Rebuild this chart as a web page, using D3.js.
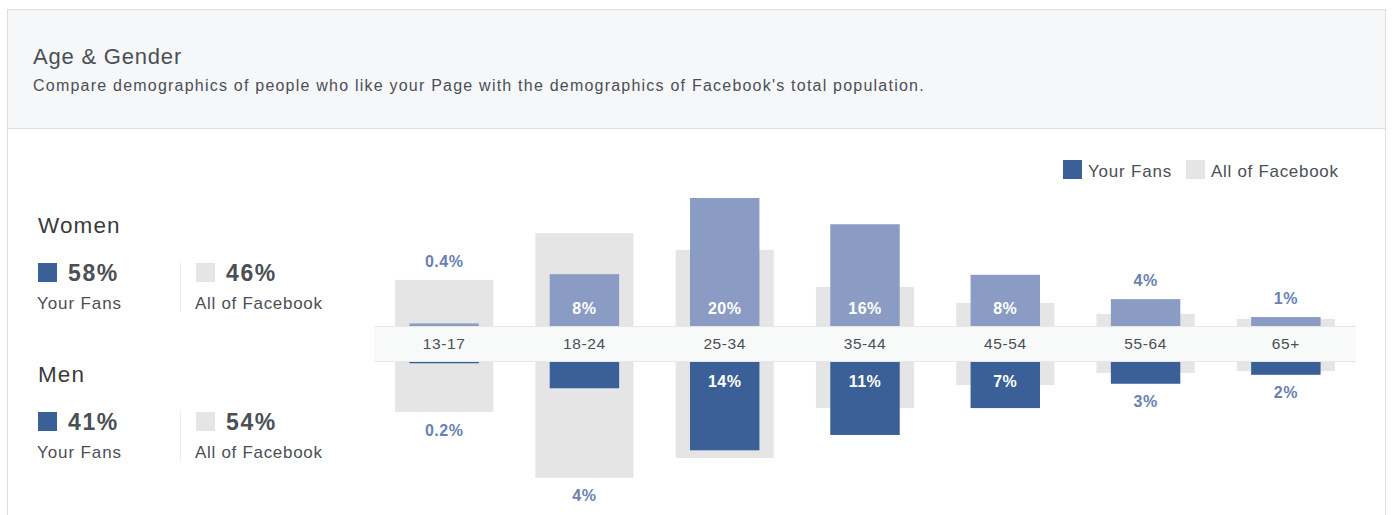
<!DOCTYPE html>
<html>
<head>
<meta charset="utf-8">
<script src="https://cdn.jsdelivr.net/npm/d3@7"></script>
<style>
  html, body { margin: 0; padding: 0; background: #fff; }
  svg { display: block; font-family: "Liberation Sans", Arial, Helvetica, sans-serif; }
</style>
</head>
<body>
<div id="chart"></div>
<script>
// age groups and shares (%)
const ages = ['13-17', '18-24', '25-34', '35-44', '45-54', '55-64', '65+'];
const womenFans = [0.4, 8.1, 20.0, 15.9, 8.0, 4.2, 1.4];
const womenAll = [7.2, 14.5, 11.9, 6.1, 3.6, 1.9, 1.1];
const menFans = [0.2, 4.1, 13.8, 11.4, 7.2, 3.4, 2.0];
const menAll = [7.8, 18.1, 15.0, 7.2, 3.6, 1.7, 1.4];

// gender totals: [your fans, all of facebook]
const genders = ['Women', 'Men'];
const genderFans = [58, 41];
const genderAll = [46, 54];

const W = 1393, H = 515;
const BLUE_LIGHT = '#8a9cc3', BLUE_DARK = '#3b5f97', GREY = '#e5e5e5';
const TEXT = '#4b4f56', LABEL = '#6a7fb5';

const svg = d3.select('#chart').append('svg')
  .attr('width', W).attr('height', H)
  .attr('viewBox', [0, 0, W, H]);

// card + header
svg.append('rect').attr('x', 7.5).attr('y', 9.5).attr('width', 1378).attr('height', 560)
  .attr('fill', '#fff').attr('stroke', '#dddfe2');
svg.append('rect').attr('x', 8).attr('y', 10).attr('width', 1377).attr('height', 118)
  .attr('fill', '#f6f7f9');
svg.append('line').attr('x1', 8).attr('x2', 1385).attr('y1', 128.5).attr('y2', 128.5)
  .attr('stroke', '#dddfe2');
svg.append('text').attr('x', 33).attr('y', 64).attr('font-size', 22).attr('fill', TEXT)
  .attr('letter-spacing', 0.8).text('Age & Gender');
svg.append('text').attr('x', 33).attr('y', 91).attr('font-size', 16).attr('fill', TEXT)
  .attr('letter-spacing', 1.22)
  .text("Compare demographics of people who like your Page with the demographics of Facebook's total population.");

// legend top right
const legend = [['Your Fans', BLUE_DARK, 1063, 0.8], ['All of Facebook', GREY, 1186, 0.7]];
legend.forEach(([name, col, lx, ls]) => {
  svg.append('rect').attr('x', lx).attr('y', 160).attr('width', 19).attr('height', 19).attr('fill', col);
  svg.append('text').attr('x', lx + 25).attr('y', 177).attr('font-size', 17).attr('fill', TEXT)
    .attr('letter-spacing', ls).text(name);
});

// left summary panel
genders.forEach((g, i) => {
  const top = 233 + i * 149;
  svg.append('text').attr('x', 38).attr('y', top).attr('font-size', 22.5).attr('fill', '#3a3b3e')
    .attr('letter-spacing', 1.1).text(g);
  const cols = [[38, BLUE_DARK, genderFans[i], 'Your Fans', 0.9], [196, GREY, genderAll[i], 'All of Facebook', 0.7]];
  cols.forEach(([cx, col, v, name, ls]) => {
    svg.append('rect').attr('x', cx).attr('y', top + 30).attr('width', 19).attr('height', 19).attr('fill', col);
    svg.append('text').attr('x', cx + 30).attr('y', top + 48).attr('font-size', 23).attr('font-weight', 'bold')
      .attr('fill', TEXT).attr('letter-spacing', 1.6).text(v + '%');
    svg.append('text').attr('x', cx - 1).attr('y', top + 76).attr('font-size', 17).attr('fill', TEXT)
      .attr('letter-spacing', ls).text(name);
  });
  svg.append('line').attr('x1', 180.5).attr('x2', 180.5).attr('y1', top + 30).attr('y2', top + 79)
    .attr('stroke', '#e9ebee');
});

// chart
const bandTop = 326, bandBottom = 362;
const x = d3.scaleBand().domain(ages).range([374, 1356]);
const y = d3.scaleLinear().domain([0, 20]).range([0, 128]);
const bw = x.bandwidth();
const greyW = bw * 0.70, fanW = bw * 0.495;

const fmt = v => v < 1 ? v.toFixed(1) + '%' : Math.round(v) + '%';

const rows = ages.map((a, i) => ({
  age: a, wf: womenFans[i], wa: womenAll[i], mf: menFans[i], ma: menAll[i]
}));

const g = svg.append('g');

// women (up)
g.selectAll('.wa').data(rows).join('rect')
  .attr('x', d => x(d.age) + (bw - greyW) / 2).attr('width', greyW)
  .attr('y', d => bandTop - y(d.wa)).attr('height', d => y(d.wa)).attr('fill', GREY);
g.selectAll('.wf').data(rows).join('rect')
  .attr('x', d => x(d.age) + (bw - fanW) / 2).attr('width', fanW)
  .attr('y', d => bandTop - y(d.wf)).attr('height', d => y(d.wf)).attr('fill', BLUE_LIGHT);

// men (down)
g.selectAll('.ma').data(rows).join('rect')
  .attr('x', d => x(d.age) + (bw - greyW) / 2).attr('width', greyW)
  .attr('y', bandBottom).attr('height', d => y(d.ma)).attr('fill', GREY);
g.selectAll('.mf').data(rows).join('rect')
  .attr('x', d => x(d.age) + (bw - fanW) / 2).attr('width', fanW)
  .attr('y', bandBottom).attr('height', d => y(d.mf)).attr('fill', BLUE_DARK);

// age band
svg.append('rect').attr('x', 374).attr('y', bandTop).attr('width', 982).attr('height', bandBottom - bandTop)
  .attr('fill', '#f8f9f9');
svg.append('line').attr('x1', 374).attr('x2', 1356).attr('y1', bandTop + 0.5).attr('y2', bandTop + 0.5).attr('stroke', '#e6e7e9');
svg.append('line').attr('x1', 374).attr('x2', 1356).attr('y1', bandBottom - 0.5).attr('y2', bandBottom - 0.5).attr('stroke', '#e6e7e9');

const axis = svg.append('g').attr('transform', `translate(0,${(bandTop + bandBottom) / 2})`)
  .call(d3.axisBottom(x).tickSize(0).tickPadding(0));
axis.select('.domain').remove();
axis.selectAll('text').attr('dy', '0.35em').attr('y', 0)
  .attr('font-size', 15.5).attr('letter-spacing', 0.6).attr('fill', TEXT)
  .attr('font-family', '"Liberation Sans", Arial, sans-serif');

// value labels
const INSIDE = 35;
svg.append('g').selectAll('text').data(rows).join('text')
  .attr('x', d => x(d.age) + bw / 2)
  .attr('y', d => y(d.wf) > INSIDE ? bandTop - 18 : bandTop - Math.max(y(d.wf), y(d.wa)) - 19)
  .attr('dy', '0.35em').attr('text-anchor', 'middle')
  .attr('font-size', 16).attr('font-weight', 'bold').attr('letter-spacing', 0.5)
  .attr('fill', d => y(d.wf) > INSIDE ? '#fff' : LABEL)
  .text(d => fmt(d.wf));
svg.append('g').selectAll('text').data(rows).join('text')
  .attr('x', d => x(d.age) + bw / 2)
  .attr('y', d => y(d.mf) > INSIDE ? bandBottom + 19 : bandBottom + Math.max(y(d.mf), y(d.ma)) + 18)
  .attr('dy', '0.35em').attr('text-anchor', 'middle')
  .attr('font-size', 16).attr('font-weight', 'bold').attr('letter-spacing', 0.5)
  .attr('fill', d => y(d.mf) > INSIDE ? '#fff' : LABEL)
  .text(d => fmt(d.mf));
</script>
</body>
</html>
